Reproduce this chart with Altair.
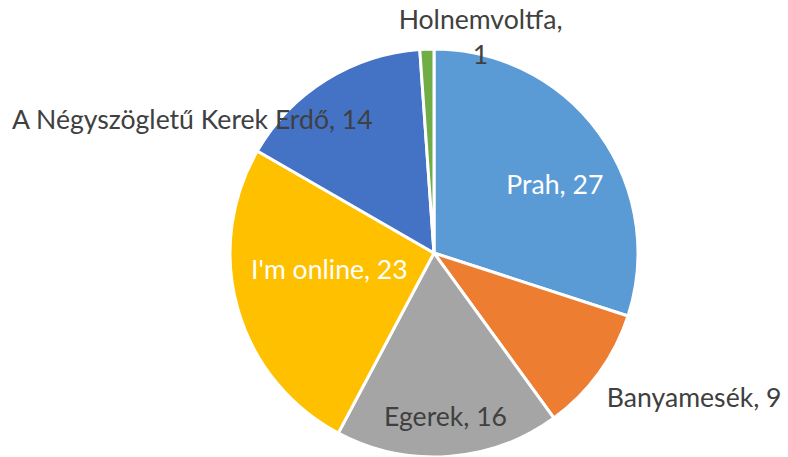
import altair as alt
import pandas as pd

categories = ["Prah", "Banyamesék", "Egerek", "I'm online", "A Négyszögletű Kerek Erdő", "Holnemvoltfa"]
values = [27, 9, 16, 23, 14, 1]
label_texts = ["Prah, 27", "Banyamesék, 9", "Egerek, 16", "I'm online, 23",
               "A Négyszögletű Kerek Erdő, 14", "Holnemvoltfa,\n1"]
colors = ["#5B9BD5", "#ED7D31", "#A5A5A5", "#FFC000", "#4472C4", "#70AD47"]

df = pd.DataFrame({
    "category": categories,
    "value": values,
    "label": label_texts,
    "idx": list(range(len(categories))),
})

# label placement (radius, dx, dy, align, colour)
placement = {
    "Prah": (137, 10, 14, "center", "white"),
    "Banyamesék": (226, -10, 13, "left", "#404040"),
    "Egerek": (165, 0, 0, "center", "#404040"),
    "I'm online": (113, 4, -13, "center", "white"),
    "A Négyszögletű Kerek Erdő": (144, 15, -10, "right", "#404040"),
    "Holnemvoltfa": (213, 54, -19, "center", "#404040"),
}

FONT = "Lato"
FS = 26.6

base = alt.Chart(df)

pie = base.mark_arc(outerRadius=204, stroke="white", strokeWidth=3).encode(
    theta=alt.Theta("value:Q", stack=True),
    color=alt.Color("category:N", scale=alt.Scale(domain=categories, range=colors), legend=None),
    order=alt.Order("idx:Q"),
)

layers = [pie]
for cat, (r, dx, dy, align, col) in placement.items():
    t = base.transform_window(
        cum="sum(value)", sort=[alt.SortField("idx")], frame=[None, 0]
    ).transform_calculate(
        mid="datum.cum - datum.value / 2"
    ).transform_filter(
        alt.datum.category == cat
    ).mark_text(
        radius=r, dx=dx, dy=dy, align=align, baseline="middle",
        font=FONT, fontSize=FS, color=col, lineBreak="\n", lineHeight=35,
    ).encode(
        theta=alt.Theta("mid:Q", stack=None),
        text="label:N",
    )
    layers.append(t)

chart = alt.layer(*layers).properties(
    width=708, height=408,
    padding={"left": 80, "top": 49, "right": 0, "bottom": 0},
    autosize="none",
    background="white",
).configure_view(stroke=None)

chart.save("out.html", embed_options={"renderer": "svg", "actions": False})
